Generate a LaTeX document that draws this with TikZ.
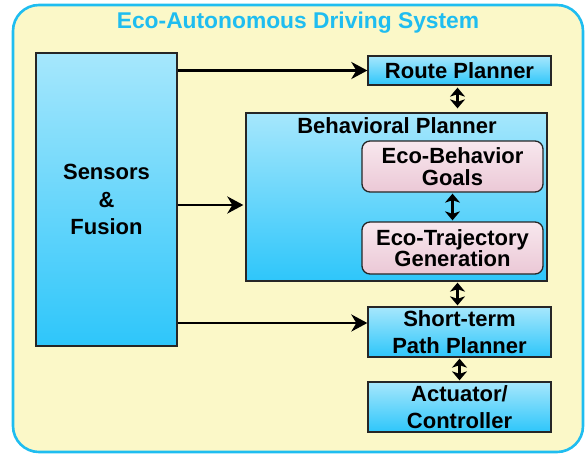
\documentclass[tikz,border=0pt]{standalone}
\usepackage{fontspec}
\setmainfont{Liberation Sans}
\usetikzlibrary{arrows.meta,positioning,shapes}

\definecolor{skytop}{HTML}{A6E7FC}
\definecolor{skybot}{HTML}{2EC6FA}
\definecolor{pinktop}{HTML}{F8E8EE}
\definecolor{pinkbot}{HTML}{EBC8D6}
\definecolor{paper}{HTML}{FBF8C8}
\definecolor{rim}{HTML}{1FBDF0}

\begin{document}
\begin{tikzpicture}[x=1pt,y=-1pt,
    frame/.style={draw=rim,line width=2.6pt,fill=paper,rounded corners=26pt},
    blk/.style={draw=black!85,line width=1.3pt,top color=skytop,bottom color=skybot,
      align=center,inner sep=0pt,font=\bfseries\fontsize{22}{26.5}\selectfont},
    goal/.style={blk,rounded corners=8pt,top color=pinktop,bottom color=pinkbot,
      font=\bfseries\fontsize{22}{21.5}\selectfont},
    lbl/.style={inner sep=0pt,font=\bfseries\fontsize{22}{26}\selectfont},
    flow/.style={line width=2.8pt,-{Stealth[length=16pt,width=17pt,inset=5pt]}},
    link/.style={line width=2.6pt,{Stealth[length=9pt,width=15pt,inset=2.5pt]}-{Stealth[length=9pt,width=15pt,inset=2.5pt]}}]
  \useasboundingbox (0,0) rectangle (588,455);
  \node[frame,minimum width=570pt,minimum height=447pt] (sys) at (298,228.5) {};
  \node[lbl,text=rim,font=\bfseries\fontsize{22.8}{26}\selectfont] (systxt) at (298,23) {Eco-Autonomous Driving System};

  \node[blk,minimum width=141pt,minimum height=293pt,font=\bfseries\fontsize{22}{27.5}\selectfont] (sensors) at (106.5,199.5) {Sensors\\\&\\Fusion};
  \node[blk,minimum width=183pt,minimum height=29pt] (route) at (459.5,70.5) {Route Planner};
  \node[blk,minimum width=301pt,minimum height=168pt] (behav) at (396.5,197) {};
  \node[lbl] (behavtxt) at (397,126) {Behavioral Planner};
  \node[goal,minimum width=181pt,minimum height=51pt] (ecogoal) at (452.5,166.5) {Eco-Behavior\\Goals};
  \node[goal,minimum width=181pt,minimum height=52pt] (ecotraj) at (452.5,248) {Eco-Trajectory\\Generation};
  \node[blk,minimum width=183pt,minimum height=50pt] (short) at (459.5,332) {Short-term\\Path Planner};
  \node[blk,minimum width=183pt,minimum height=50pt] (act) at (459.5,407) {Actuator/\\Controller};

  \draw[flow] (route.west -| sensors.east) -- (route.west);
  \draw[flow,shorten >=2pt] ([yshift=-8pt]behav.west -| sensors.east) -- ([yshift=-8pt]behav.west);
  \draw[flow] ([yshift=9pt]short.west -| sensors.east) -- ([yshift=9pt]short.west);

  \draw[link,shorten <=2pt,shorten >=4pt] ([xshift=-2pt]route.south) -- ([xshift=-2pt]route.south |- behav.north);
  \draw[link,shorten <=1pt,shorten >=1pt] (ecogoal) -- (ecotraj);
  \draw[link,shorten <=1pt,shorten >=1pt] ([xshift=-2pt]behav.south -| short.north) -- ([xshift=-2pt]short.north);
  \draw[link,shorten <=1pt,shorten >=1pt] (short) -- (act);
\end{tikzpicture}
\end{document}
